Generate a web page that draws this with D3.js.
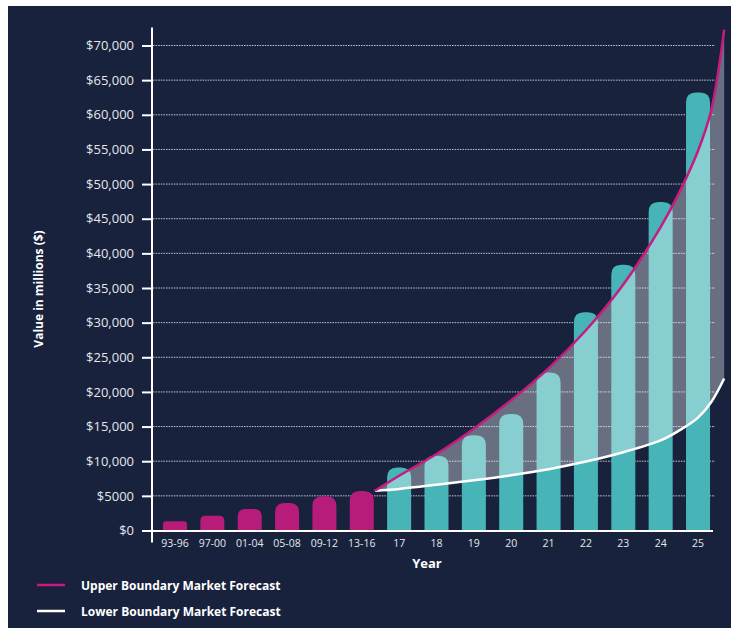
<!DOCTYPE html>
<html>
<head>
<meta charset="utf-8">
<script src="https://cdn.jsdelivr.net/npm/d3@7"></script>
<style>
  html, body { margin: 0; padding: 0; background: #ffffff; }
  svg { display: block; }
  text { font-family: "Open Sans", "Noto Sans", sans-serif; }
</style>
</head>
<body>
<svg id="chart" width="731" height="628"></svg>
<script>
// Market value by period (millions of dollars)
const periods = ["93-96", "97-00", "01-04", "05-08", "09-12", "13-16", "17", "18", "19", "20", "21", "22", "23", "24", "25"];
const values = [1330, 2130, 3100, 3960, 4930, 5690, 9100, 10800, 13760, 16830, 22800, 31500, 38350, 47400, 63200];
const historicCount = 6;

// Forecast boundary curves, sampled by year (17 = 2017 ... 25 = 2025)
const forecastYears = [16.35, 17, 18, 19, 20, 21, 22, 23, 24, 24.5, 25, 25.35, 25.7];
const upperBoundary = [5735, 7900, 11050, 14700, 18800, 23400, 28900, 35500, 43800, 48800, 54800, 60600, 72300];
const lowerBoundary = [5735, 6000, 6600, 7250, 7980, 8850, 9950, 11300, 13000, 14450, 16300, 18500, 21930];

const yTicks = [0, 5000, 10000, 15000, 20000, 25000, 30000, 35000, 40000, 45000, 50000, 55000, 60000, 65000, 70000];

const colors = {
  bg: "#18223c",
  historic: "#b71c7b",
  forecast: "#47b4b7",
  upper: "#c81a7f",
  lower: "#ffffff",
  text: "#e4e7ee",
  grid: "#b9bfcc"
};

const svg = d3.select("#chart");

// Navy panel with a thin white margin on top and left
svg.append("rect").attr("x", 8).attr("y", 6).attr("width", 723).attr("height", 622).attr("fill", colors.bg);

const y = d3.scaleLinear().domain([0, 70000]).range([530.5, 45.5]);
const x = d3.scaleBand().domain(periods).range([156.3, 716.7]).paddingInner(0.357).paddingOuter(0.1785);
const center = d => x(d) + x.bandwidth() / 2;
// Continuous year scale aligned with the yearly bars
const xYear = d3.scaleLinear().domain([17, 25]).range([center("17"), center("25")]);

const axisLeftX = 152;
const axisRightX = 713;

// Dotted gridlines
svg.append("g")
  .selectAll("line")
  .data(yTicks.filter(t => t > 0))
  .join("line")
  .attr("x1", axisLeftX + 1).attr("x2", 715)
  .attr("y1", d => y(d)).attr("y2", d => y(d))
  .attr("stroke", colors.grid)
  .attr("stroke-width", 1)
  .attr("stroke-dasharray", "1.6,1");

// Bars with rounded tops
function barPath(d, i) {
  const x0 = x(periods[i]);
  const w = x.bandwidth();
  const yb = y(0);
  const yt = y(d);
  const h = yb - yt;
  const r = Math.min(10, h * 0.35, w / 2);
  return `M${x0},${yb} L${x0},${yt + r} Q${x0},${yt} ${x0 + r},${yt} L${x0 + w - r},${yt} Q${x0 + w},${yt} ${x0 + w},${yt + r} L${x0 + w},${yb} Z`;
}

svg.append("g")
  .selectAll("path")
  .data(values)
  .join("path")
  .attr("d", barPath)
  .attr("fill", (d, i) => i < historicCount ? colors.historic : colors.forecast);

// Forecast band between the boundaries
const band = forecastYears.map((yr, i) => ({ yr, lo: lowerBoundary[i], hi: upperBoundary[i] }));
const smooth = d3.curveCatmullRom.alpha(0.5);
svg.append("path")
  .datum(band)
  .attr("fill", "#ffffff")
  .attr("fill-opacity", 0.35)
  .attr("d", d3.area()
    .x(d => xYear(d.yr))
    .y0(d => y(d.lo))
    .y1(d => y(d.hi))
    .curve(smooth));

const lineGen = key => d3.line()
  .x(d => xYear(d.yr))
  .y(d => y(d[key]))
  .curve(smooth);

svg.append("path").datum(band)
  .attr("fill", "none").attr("stroke", colors.lower).attr("stroke-width", 2.5)
  .attr("d", lineGen("lo"));
svg.append("path").datum(band)
  .attr("fill", "none").attr("stroke", colors.upper).attr("stroke-width", 2.5)
  .attr("d", lineGen("hi"));

// Y axis
const fmt = v => v === 0 ? "$0" : v < 10000 ? "$" + v : "$" + d3.format(",")(v);
const yAxis = svg.append("g")
  .attr("transform", `translate(${axisLeftX},0)`)
  .call(d3.axisLeft(y).tickValues(yTicks).tickFormat(fmt).tickSize(10).tickPadding(8));
yAxis.select(".domain").remove();
yAxis.selectAll(".tick line").attr("stroke", "#ffffff").attr("stroke-width", 2);
yAxis.selectAll(".tick text")
  .attr("fill", colors.text)
  .attr("font-size", 13)
  .attr("font-family", "'Open Sans', 'Noto Sans', sans-serif");

svg.append("line")
  .attr("x1", axisLeftX).attr("x2", axisLeftX)
  .attr("y1", y(70000) - 18).attr("y2", y(0) + 12)
  .attr("stroke", "#ffffff").attr("stroke-width", 2);

// X axis
svg.append("line")
  .attr("x1", axisLeftX).attr("x2", axisRightX)
  .attr("y1", y(0) + 0.5).attr("y2", y(0) + 0.5)
  .attr("stroke", "#ffffff").attr("stroke-width", 2);

const xAxis = svg.append("g")
  .attr("transform", `translate(0,${y(0) + 1})`)
  .call(d3.axisBottom(x).tickSize(0).tickPadding(8));
xAxis.select(".domain").remove();
xAxis.selectAll(".tick text")
  .attr("fill", colors.text)
  .attr("font-size", 10.5)
  .attr("font-family", "'Open Sans', 'Noto Sans', sans-serif");

// Axis titles
svg.append("text")
  .attr("transform", "translate(43,289) rotate(-90)")
  .attr("text-anchor", "middle")
  .attr("fill", "#ffffff")
  .attr("font-size", 12)
  .attr("font-weight", 700)
  .text("Value in millions ($)");

svg.append("text")
  .attr("x", 427).attr("y", 568)
  .attr("text-anchor", "middle")
  .attr("fill", "#ffffff")
  .attr("font-size", 13)
  .attr("font-weight", 700)
  .text("Year");

// Legend
const legendItems = [
  { label: "Upper Boundary Market Forecast", color: colors.upper },
  { label: "Lower Boundary Market Forecast", color: colors.lower }
];
const legend = svg.append("g").attr("transform", "translate(37,585)");
legend.selectAll("g")
  .data(legendItems)
  .join("g")
  .attr("transform", (d, i) => `translate(0,${i * 26})`)
  .each(function (d) {
    const g = d3.select(this);
    g.append("line").attr("x1", 0).attr("x2", 28).attr("y1", 0).attr("y2", 0)
      .attr("stroke", d.color).attr("stroke-width", 2.5);
    g.append("text").attr("x", 44).attr("y", 4.5)
      .attr("fill", "#ffffff").attr("font-size", 12).attr("font-weight", 700)
      .text(d.label);
  });
</script>
</body>
</html>
